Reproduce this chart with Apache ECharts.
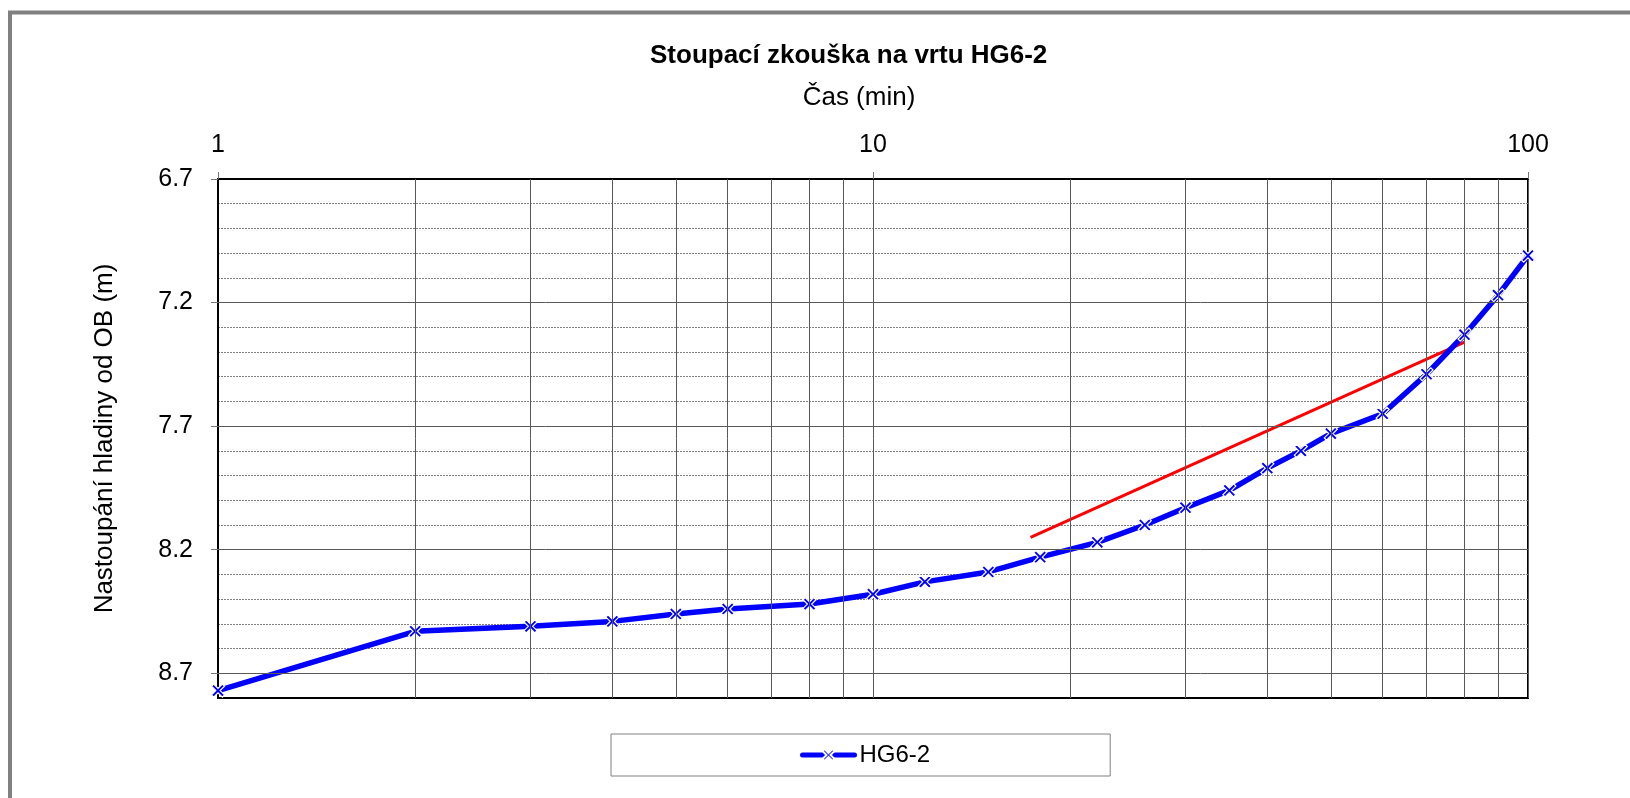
<!DOCTYPE html>
<html>
<head>
<meta charset="utf-8">
<script src="https://cdn.jsdelivr.net/npm/echarts@6/dist/echarts.min.js"></script>
<style>
  html, body { margin: 0; padding: 0; background: #fff; }
  #chart { width: 1630px; height: 798px; }
</style>
</head>
<body>
<div id="chart"></div>
<script>
// Recovery test on well HG6-2: water level below reference point vs. time
const timeMin = [1, 2, 3, 4, 5, 6, 8, 10, 12, 15, 18, 22, 26, 30, 35, 40, 45, 50, 60, 70, 80, 90, 100];
const levelM = [8.77, 8.53, 8.51, 8.49, 8.46, 8.44, 8.42, 8.38, 8.33, 8.29, 8.23, 8.17, 8.10, 8.03, 7.96, 7.87, 7.80, 7.73, 7.65, 7.49, 7.33, 7.17, 7.01];

// Straight-line fit on the semi-log plot
const trendTime = [17.4, 80];
const trendLevel = [8.15, 7.36];

// Axis ticks
const yMajorTicks = [6.7, 7.2, 7.7, 8.2, 8.7];
const xMinorTimes = [2, 3, 4, 5, 6, 7, 8, 9, 20, 30, 40, 50, 60, 70, 80, 90];

const FONT = 'Liberation Sans, Arial, sans-serif';
const seriesName = 'HG6-2';
// "x" marker outline (12 x 12 box)
const xMark = 'path://M0,2L2,0L6,4L10,0L12,2L8,6L12,10L10,12L6,8L2,12L0,10L4,6Z';

const chart = echarts.init(document.getElementById('chart'), null, { renderer: 'canvas' });

const isMajor = v => yMajorTicks.some(m => Math.abs(m - v) < 1e-6);

const yCommon = { type: 'value', inverse: true, min: 6.7, max: 8.8 };

chart.setOption({
  animation: false,
  backgroundColor: '#fff',
  textStyle: { fontFamily: FONT, color: '#000' },
  graphic: [{
    type: 'rect',
    shape: { x: 10, y: 12.5, width: 1700, height: 900 },
    style: { fill: 'none', stroke: '#808080', lineWidth: 4 },
    silent: true
  }],
  title: {
    text: 'Stoupací zkouška na vrtu HG6-2',
    left: 650,
    top: 43,
    padding: 0,
    textStyle: { fontFamily: FONT, fontSize: 26, fontWeight: 'bold', color: '#000' }
  },
  grid: {
    left: 218, right: 102, top: 179, bottom: 100,
    show: true, borderColor: '#000', borderWidth: 2, backgroundColor: '#fff'
  },
  legend: {
    data: [seriesName],
    left: 611, top: 734,
    padding: [9, 180, 9, 189],
    backgroundColor: '#fff',
    borderColor: '#808080', borderWidth: 1, borderRadius: 0,
    itemWidth: 52, itemHeight: 15, itemGap: 4,
    lineStyle: { width: 5, cap: 'round', color: '#0000ff' },
    textStyle: { fontFamily: FONT, fontSize: 24, color: '#000' }
  },
  xAxis: {
    type: 'log',
    logBase: 10,
    min: 1, max: 100,
    position: 'top',
    name: 'Čas (min)',
    nameLocation: 'middle',
    nameGap: 68,
    nameTextStyle: { fontFamily: FONT, fontSize: 26, color: '#000', padding: [0, 28, 0, 0] },
    axisLine: { show: true, lineStyle: { color: '#000', width: 2 } },
    axisTick: { show: true, inside: false, length: 7, lineStyle: { color: '#777', width: 1 } },
    axisLabel: { fontFamily: FONT, fontSize: 25, color: '#000', margin: 21 },
    splitLine: { show: true, lineStyle: { color: '#595959', width: 1 } }
  },
  yAxis: [
    {
      ...yCommon,
      interval: 0.1,
      name: 'Nastoupání hladiny od OB (m)',
      nameLocation: 'middle',
      nameGap: 100,
      nameTextStyle: { fontFamily: FONT, fontSize: 26, color: '#000' },
      axisLine: { show: true, lineStyle: { color: '#000', width: 2 } },
      axisTick: { show: true, inside: false, length: 7, customValues: yMajorTicks, lineStyle: { color: '#777', width: 1 } },
      axisLabel: {
        fontFamily: FONT, fontSize: 25, color: '#000', margin: 25,
        formatter: v => (isMajor(v) ? String(+v.toFixed(1)) : '')
      },
      splitLine: { show: false }
    },
    {
      // minor dotted gridlines every 0.1 m
      ...yCommon,
      interval: 0.1,
      position: 'left',
      axisLine: { show: false },
      axisTick: { show: false },
      axisLabel: { show: false },
      splitLine: {
        show: true,
        showMinLine: false,
        showMaxLine: false,
        lineStyle: {
          color: ['#808080', '#808080', '#808080', '#808080', 'rgba(0,0,0,0)'],
          width: 1,
          type: [2, 1]
        }
      }
    }
  ],
  series: [
    {
      // major horizontal and minor vertical gridlines
      type: 'line',
      name: 'grid',
      data: [],
      silent: true,
      z: 1,
      markLine: {
        silent: true,
        symbol: 'none',
        label: { show: false },
        animation: false,
        lineStyle: { color: '#595959', width: 1, type: 'solid' },
        emphasis: { disabled: true },
        data: [
          ...yMajorTicks.slice(1).map(v => ({ yAxis: v })),
          ...xMinorTimes.map(v => ({ xAxis: v }))
        ]
      }
    },
    {
      type: 'line',
      name: 'trend',
      data: trendTime.map((t, i) => [t, trendLevel[i]]),
      symbol: 'none',
      silent: true,
      z: 3,
      lineStyle: { color: '#ff0000', width: 3 }
    },
    {
      type: 'line',
      name: seriesName,
      data: timeMin.map((t, i) => [t, levelM[i]]),
      symbol: xMark,
      symbolSize: 13,
      z: 4,
      lineStyle: { color: '#0000ff', width: 5.5 },
      itemStyle: { color: '#0000ff', borderColor: '#ffffff', borderWidth: 1.2 }
    }
  ]
});
</script>
</body>
</html>
